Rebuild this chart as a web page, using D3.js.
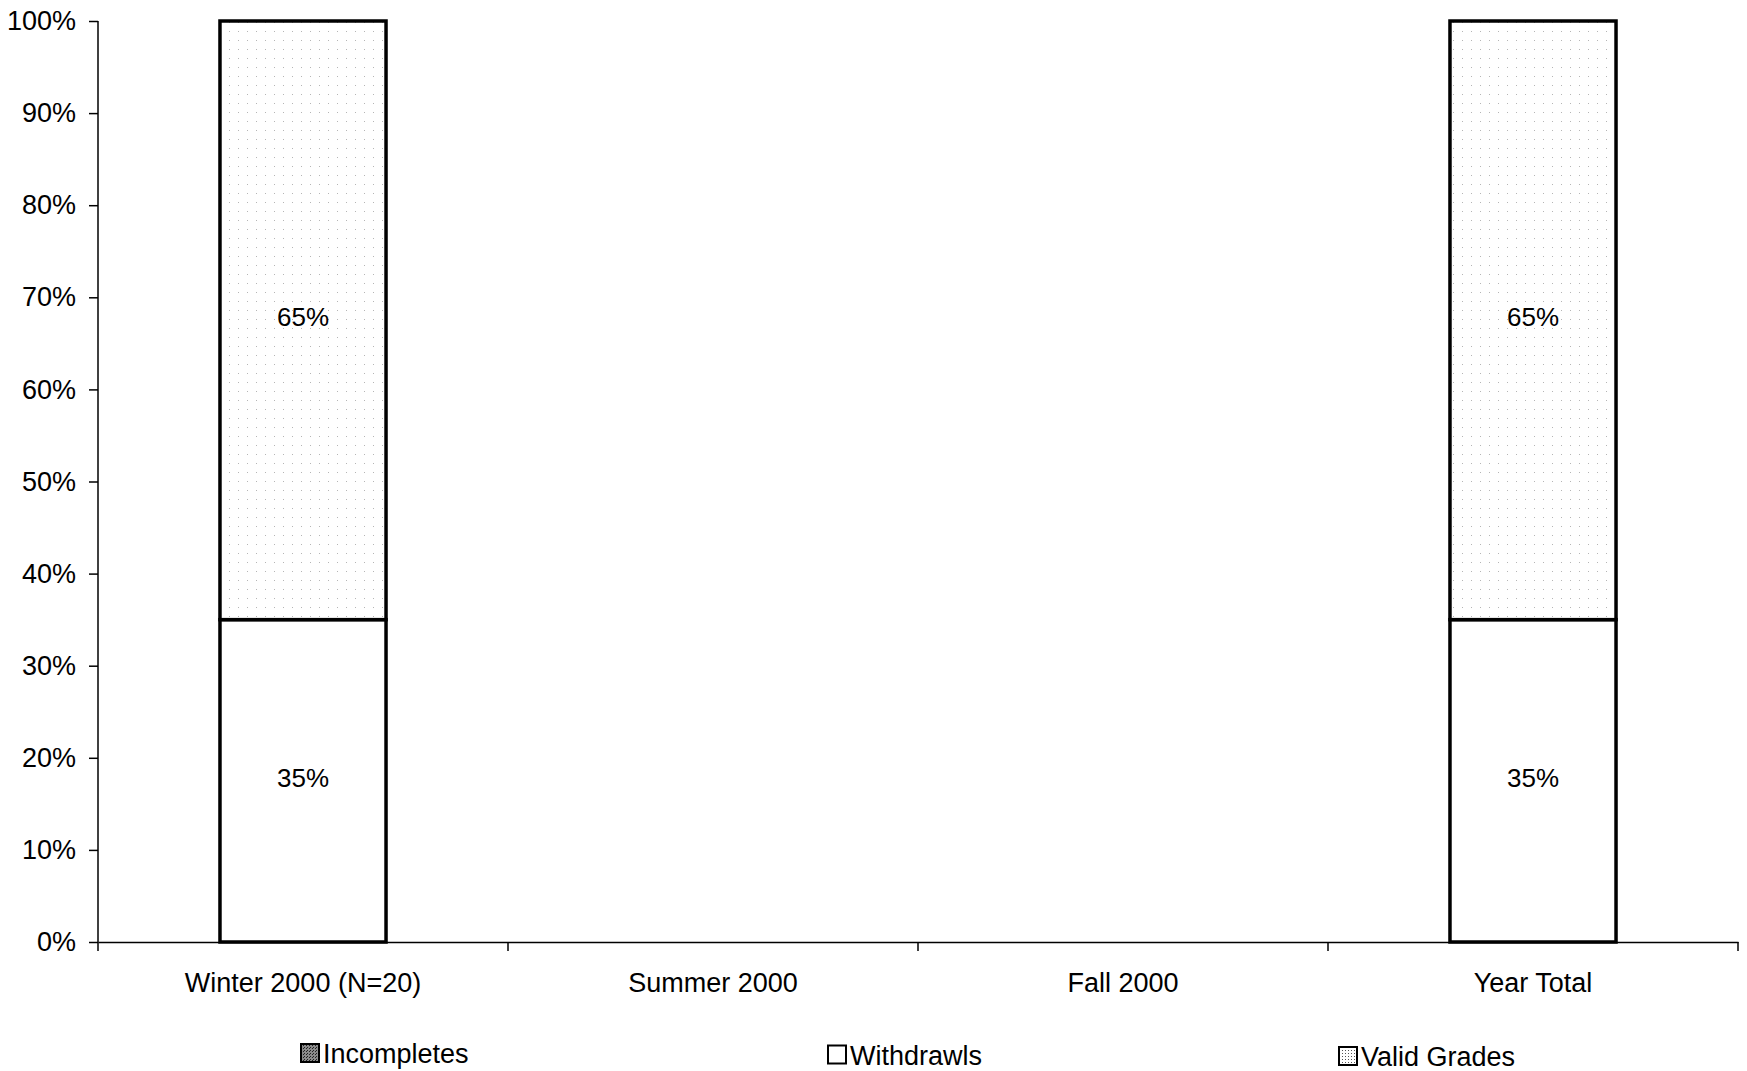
<!DOCTYPE html>
<html lang="en">
<head>
    <meta charset="utf-8">
    <title>Grade Outcomes 2000</title>
    <script src="https://d3js.org/d3.v7.min.js"></script>
    <style>
        body {
            margin: 0;
            padding: 0;
            background: #fff;
        }

        svg text {
            font-family: "Liberation Sans", Arial, sans-serif;
            fill: #000;
        }

        .axis path,
        .axis line {
            stroke: #000;
            stroke-width: 1.5px;
        }

        .axis text {
            font-size: 27px;
        }

        .segment {
            stroke: #000;
            stroke-width: 3.5px;
        }

        .value-label {
            font-size: 26px;
        }

        .legend text {
            font-size: 27px;
        }
    </style>
</head>
<body>
<svg id="chart"></svg>
<script>
    // data
    const categories = ["Winter 2000 (N=20)", "Summer 2000", "Fall 2000", "Year Total"];
    const seriesNames = ["Incompletes", "Withdrawls", "Valid Grades"];
    const incompletes = [0, 0, 0, 0];
    const withdrawls = [35, 0, 0, 35];
    const validGrades = [65, 0, 0, 65];
    const yTicks = [0, 10, 20, 30, 40, 50, 60, 70, 80, 90, 100];

    const width = 1747;
    const height = 1071;
    const margin = {top: 21, right: 9, bottom: 129, left: 98};

    const svg = d3.select("#chart")
        .attr("width", width)
        .attr("height", height);

    // fill patterns
    const defs = svg.append("defs");

    const dark = defs.append("pattern")
        .attr("id", "pat-incompletes")
        .attr("width", 3).attr("height", 3)
        .attr("patternUnits", "userSpaceOnUse");
    dark.append("rect").attr("width", 3).attr("height", 3).attr("fill", "#8a8a8a");
    dark.append("rect").attr("width", 1).attr("height", 1).attr("fill", "#222");
    dark.append("rect").attr("x", 2).attr("y", 1).attr("width", 1).attr("height", 1).attr("fill", "#222");

    const light = defs.append("pattern")
        .attr("id", "pat-valid")
        .attr("width", 9).attr("height", 9)
        .attr("patternUnits", "userSpaceOnUse");
    light.append("rect").attr("width", 9).attr("height", 9).attr("fill", "#fff");
    light.append("rect").attr("x", 4).attr("y", 4).attr("width", 1).attr("height", 1).attr("fill", "#b5b5b5");

    const swatchGrid = defs.append("pattern")
        .attr("id", "pat-valid-swatch")
        .attr("width", 3).attr("height", 3)
        .attr("patternUnits", "userSpaceOnUse");
    swatchGrid.append("rect").attr("width", 3).attr("height", 3).attr("fill", "#fff");
    swatchGrid.append("rect").attr("width", 1).attr("height", 1).attr("fill", "#555");

    const fills = {
        "Incompletes": "url(#pat-incompletes)",
        "Withdrawls": "#fff",
        "Valid Grades": "url(#pat-valid)"
    };
    const swatchFills = {
        "Incompletes": "url(#pat-incompletes)",
        "Withdrawls": "#fff",
        "Valid Grades": "url(#pat-valid-swatch)"
    };

    const rows = categories.map((c, i) => ({
        category: c,
        "Incompletes": incompletes[i],
        "Withdrawls": withdrawls[i],
        "Valid Grades": validGrades[i]
    }));

    const stacked = d3.stack().keys(seriesNames)(rows);

    const x = d3.scaleBand()
        .domain(categories)
        .range([margin.left, width - margin.right])
        .paddingInner(0.595)
        .paddingOuter(0.2975);

    const y = d3.scaleLinear()
        .domain([0, 100])
        .range([height - margin.bottom, margin.top]);

    // bars
    const layer = svg.append("g")
        .selectAll("g")
        .data(stacked)
        .join("g")
        .attr("fill", d => fills[d.key]);

    layer.selectAll("rect")
        .data(d => d.filter(s => s[1] - s[0] > 0))
        .join("rect")
        .attr("class", "segment")
        .attr("x", d => x(d.data.category))
        .attr("y", d => y(d[1]))
        .attr("width", x.bandwidth())
        .attr("height", d => y(d[0]) - y(d[1]));

    layer.selectAll("text")
        .data(d => d.filter(s => s[1] - s[0] > 0))
        .join("text")
        .attr("class", "value-label")
        .attr("x", d => x(d.data.category) + x.bandwidth() / 2)
        .attr("y", d => y((d[0] + d[1]) / 2))
        .attr("dy", "0.22em")
        .attr("text-anchor", "middle")
        .text(d => `${d[1] - d[0]}%`);

    // y axis
    svg.append("g")
        .attr("class", "axis")
        .attr("transform", `translate(${margin.left},0)`)
        .call(d3.axisLeft(y).tickValues(yTicks).tickFormat(d => d + "%").tickSize(9).tickPadding(13).tickSizeOuter(0))
        .call(g => g.select(".domain").attr("d", `M0,${y(100)}V${y(0) + 9}`));

    // x axis: labels centred on bands, ticks on band boundaries
    const xAxis = svg.append("g")
        .attr("class", "axis")
        .attr("transform", `translate(0,${y(0)})`)
        .call(d3.axisBottom(x).tickSize(0).tickPadding(31).tickSizeOuter(0));

    const edges = d3.range(categories.length + 1).map(i => x.range()[0] + i * x.step());
    xAxis.selectAll("line.edge")
        .data(edges.slice(1))
        .join("line")
        .attr("class", "edge")
        .attr("x1", d => d).attr("x2", d => d)
        .attr("y1", 0).attr("y2", 9);

    // legend
    const legendX = [301, 828, 1339];
    const legend = svg.append("g")
        .attr("class", "legend")
        .selectAll("g")
        .data(seriesNames)
        .join("g")
        .attr("transform", (d, i) => `translate(${legendX[i]},${1044 + i * 1.5})`);

    legend.append("rect")
        .attr("x", 0).attr("y", 0)
        .attr("width", 18).attr("height", 18)
        .attr("fill", d => swatchFills[d])
        .attr("stroke", "#000")
        .attr("stroke-width", 2);

    legend.append("text")
        .attr("x", 22)
        .attr("y", 19)
        .text(d => d);
</script>
</body>
</html>
